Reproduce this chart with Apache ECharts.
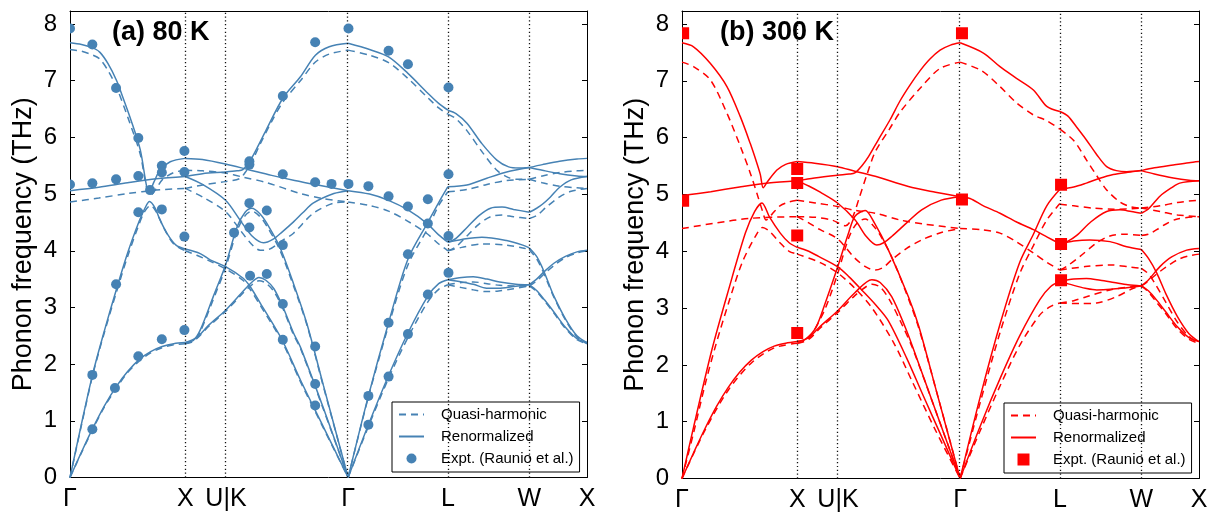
<!DOCTYPE html>
<html><head><meta charset="utf-8">
<script src="https://cdn.jsdelivr.net/npm/echarts@6/dist/echarts.min.js"></script>
<style>html,body{margin:0;padding:0;background:#fff}#c{width:1212px;height:514px}</style>
</head><body><div id="c"></div>
<script>
// High-symmetry path positions and labels
const kPos = [0, 1, 1.3536, 2.4142, 3.2802, 3.9873, 4.4873];
const kLabels = ['Γ', 'X', 'U|K', 'Γ', 'L', 'W', 'X'];
const yTicks = [0, 1, 2, 3, 4, 5, 6, 7, 8];
const panelTitles = ['(a) 80 K', '(b) 300 K'];
const legendNames = ['Quasi-harmonic', 'Renormalized', 'Expt. (Raunio et al.)'];

// ---------- Panel (a) 80 K : Renormalized ----------
const renA_GX = [
 [[0,0],[0.1,0.45],[0.2,0.88],[0.3,1.27],[0.4,1.6],[0.5,1.87],[0.6,2.08],[0.7,2.22],[0.8,2.31],[0.9,2.36],[1,2.38]],
 [[0,0],[0.1,0.95],[0.2,1.85],[0.3,2.6],[0.4,3.3],[0.5,3.96],[0.6,4.52],[0.65,4.75],[0.69,4.87],[0.74,4.75],[0.78,4.55],[0.85,4.28],[0.92,4.1],[1,4.03]],
 [[0,7.67],[0.1,7.64],[0.2,7.58],[0.26,7.5],[0.33,7.3],[0.405,7.0],[0.46,6.7],[0.52,6.36],[0.61,5.78],[0.666,5.13],[0.69,5.06],[0.73,5.22],[0.78,5.42],[0.87,5.57],[1,5.63]],
 [[0,5.06],[0.25,5.12],[0.5,5.2],[0.75,5.27],[1,5.31]]
];
const renA_XG = [
 [[1,5.63],[1.15,5.61],[1.35,5.53],[1.55,5.43],[1.75,5.33],[1.95,5.24],[2.15,5.16],[2.414,5.06]],
 [[1,5.31],[1.15,5.36],[1.35,5.39],[1.45,5.41],[1.5,5.43],[1.56,5.58],[1.62,5.8],[1.7,6.12],[1.85,6.7],[2.0,7.07],[2.13,7.45],[2.25,7.6],[2.414,7.66]],
 [[1,5.31],[1.15,5.17],[1.35,4.89],[1.476,4.54],[1.58,4.26],[1.68,4.14],[1.76,4.2],[1.84,4.33],[1.94,4.51],[2.02,4.67],[2.11,4.84],[2.29,5.01],[2.414,5.06]],
 [[1,4.03],[1.13,3.95],[1.216,3.84],[1.35,3.72],[1.5,3.52],[1.563,3.37],[1.65,3.08],[1.84,2.43],[2.0,1.72],[2.2,0.89],[2.414,0]],
 [[1,2.38],[1.07,2.42],[1.13,2.6],[1.245,3.2],[1.35,3.75],[1.45,4.42],[1.52,4.68],[1.578,4.75],[1.65,4.65],[1.71,4.48],[1.82,4.07],[1.94,3.42],[2.055,2.72],[2.2,1.62],[2.414,0]],
 [[1,2.38],[1.1,2.47],[1.2,2.68],[1.35,2.95],[1.5,3.28],[1.58,3.45],[1.64,3.53],[1.7,3.48],[1.77,3.33],[1.85,3.0],[1.94,2.55],[2.0,2.3],[2.2,1.22],[2.414,0]]
];
const renA_GL = [
 [[2.414,0],[2.59,0.93],[2.765,1.8],[2.933,2.55],[3.106,3.2],[3.2,3.42],[3.28,3.49]],
 [[2.414,0],[2.59,1.44],[2.765,2.73],[2.933,3.85],[3.106,4.5],[3.2,4.85],[3.28,5.13]],
 [[2.414,5.06],[2.6,5.0],[2.765,4.89],[2.933,4.72],[3.1,4.48],[3.2,4.28],[3.28,4.15]],
 [[2.414,7.66],[2.6,7.55],[2.765,7.42],[2.933,7.13],[3.106,6.78],[3.2,6.6],[3.28,6.48]]
];
const renA_LW = [
 [[3.28,6.48],[3.35,6.42],[3.445,6.25],[3.575,5.89],[3.705,5.6],[3.807,5.48],[3.9,5.46],[3.987,5.47]],
 [[3.28,5.13],[3.445,5.16],[3.618,5.28],[3.79,5.39],[3.987,5.47]],
 [[3.28,4.15],[3.35,4.22],[3.45,4.42],[3.55,4.62],[3.65,4.75],[3.75,4.77],[3.85,4.73],[3.987,4.68]],
 [[3.28,4.15],[3.4,4.2],[3.575,4.24],[3.79,4.18],[3.93,4.1],[3.987,4.05]],
 [[3.28,3.49],[3.4,3.53],[3.5,3.54],[3.62,3.5],[3.73,3.45],[3.87,3.41],[3.987,3.4]],
 [[3.28,3.49],[3.4,3.45],[3.5,3.41],[3.616,3.34],[3.72,3.34],[3.85,3.37],[3.987,3.4]]
];
const renA_WX = [
 [[3.987,5.47],[4.1,5.52],[4.25,5.58],[4.4,5.62],[4.487,5.63]],
 [[3.987,5.47],[4.1,5.42],[4.25,5.36],[4.4,5.32],[4.487,5.31]],
 [[3.987,4.68],[4.05,4.75],[4.1,4.82],[4.17,4.95],[4.25,5.12],[4.35,5.25],[4.487,5.31]],
 [[3.987,4.05],[4.05,3.9],[4.1,3.7],[4.15,3.45],[4.2,3.2],[4.3,2.8],[4.4,2.5],[4.487,2.38]],
 [[3.987,3.4],[4.05,3.3],[4.12,3.13],[4.2,2.92],[4.3,2.65],[4.4,2.45],[4.487,2.38]],
 [[3.987,3.4],[4.05,3.5],[4.12,3.64],[4.2,3.78],[4.3,3.9],[4.4,3.98],[4.487,4.01]]
];

// ---------- Panel (a) 80 K : Quasi-harmonic ----------
const qhA_GX = [
 [[0,0],[0.1,0.44],[0.2,0.86],[0.3,1.25],[0.4,1.57],[0.5,1.85],[0.6,2.05],[0.7,2.2],[0.8,2.29],[0.9,2.34],[1,2.36]],
 [[0,0],[0.1,0.93],[0.2,1.83],[0.3,2.57],[0.4,3.25],[0.5,3.9],[0.6,4.47],[0.65,4.7],[0.7,4.8],[0.75,4.68],[0.82,4.38],[0.9,4.12],[1,4.0]],
 [[0,7.55],[0.1,7.52],[0.2,7.45],[0.26,7.38],[0.33,7.18],[0.405,6.88],[0.52,6.25],[0.61,5.7],[0.666,5.1],[0.7,4.98],[0.75,5.1],[0.8,5.25],[0.9,5.38],[1,5.42]],
 [[0,4.86],[0.25,4.93],[0.5,5.01],[0.75,5.07],[1,5.1]]
];
const qhA_XG = [
 [[1,5.42],[1.15,5.41],[1.35,5.37],[1.5,5.3],[1.71,5.2],[2.0,5.01],[2.2,4.92],[2.414,4.86]],
 [[1,5.1],[1.15,5.16],[1.35,5.22],[1.47,5.27],[1.52,5.38],[1.58,5.58],[1.65,5.88],[1.75,6.28],[1.85,6.63],[2.0,7.0],[2.13,7.33],[2.25,7.47],[2.414,7.54]],
 [[1,5.1],[1.15,4.95],[1.35,4.69],[1.476,4.37],[1.56,4.15],[1.65,4.01],[1.72,4.02],[1.84,4.18],[1.94,4.31],[2.11,4.66],[2.29,4.84],[2.414,4.86]],
 [[1,4.0],[1.1,3.92],[1.2,3.83],[1.35,3.68],[1.5,3.48],[1.56,3.33],[1.65,3.04],[1.84,2.4],[2.0,1.69],[2.2,0.87],[2.414,0]],
 [[1,2.36],[1.07,2.4],[1.13,2.57],[1.245,3.15],[1.35,3.7],[1.45,4.35],[1.52,4.62],[1.578,4.7],[1.65,4.6],[1.71,4.43],[1.82,4.02],[1.94,3.38],[2.055,2.7],[2.2,1.6],[2.414,0]],
 [[1,2.36],[1.1,2.45],[1.2,2.66],[1.35,2.93],[1.5,3.25],[1.58,3.4],[1.64,3.47],[1.7,3.43],[1.77,3.28],[1.85,2.97],[1.94,2.52],[2.0,2.28],[2.2,1.2],[2.414,0]]
];
const qhA_GL = [
 [[2.414,0],[2.59,0.9],[2.765,1.75],[2.933,2.47],[3.106,3.1],[3.2,3.32],[3.28,3.4]],
 [[2.414,0],[2.59,1.42],[2.765,2.68],[2.933,3.75],[3.106,4.4],[3.2,4.8],[3.28,5.04]],
 [[2.414,4.86],[2.6,4.8],[2.765,4.7],[2.933,4.52],[3.1,4.3],[3.2,4.12],[3.28,4.0]],
 [[2.414,7.54],[2.6,7.45],[2.765,7.32],[2.933,7.04],[3.106,6.7],[3.2,6.52],[3.28,6.41]]
];
const qhA_LW = [
 [[3.28,6.41],[3.35,6.33],[3.445,6.12],[3.575,5.75],[3.705,5.42],[3.807,5.29],[3.9,5.26],[3.987,5.26]],
 [[3.28,5.04],[3.445,5.08],[3.618,5.17],[3.79,5.24],[3.987,5.26]],
 [[3.28,4.0],[3.35,4.07],[3.45,4.27],[3.55,4.47],[3.65,4.6],[3.75,4.63],[3.85,4.6],[3.987,4.57]],
 [[3.28,4.0],[3.4,4.06],[3.575,4.12],[3.79,4.1],[3.93,4.05],[3.987,4.02]],
 [[3.28,3.4],[3.4,3.44],[3.5,3.45],[3.62,3.42],[3.73,3.39],[3.87,3.38],[3.987,3.38]],
 [[3.28,3.4],[3.4,3.35],[3.5,3.31],[3.616,3.28],[3.72,3.29],[3.85,3.33],[3.987,3.38]]
];
const qhA_WX = [
 [[3.987,5.26],[4.1,5.32],[4.25,5.38],[4.4,5.41],[4.487,5.42]],
 [[3.987,5.26],[4.1,5.2],[4.25,5.14],[4.4,5.11],[4.487,5.1]],
 [[3.987,4.57],[4.05,4.62],[4.14,4.78],[4.25,4.95],[4.35,5.05],[4.487,5.1]],
 [[3.987,4.02],[4.05,3.86],[4.1,3.66],[4.15,3.42],[4.2,3.18],[4.3,2.78],[4.4,2.48],[4.487,2.36]],
 [[3.987,3.38],[4.05,3.28],[4.12,3.11],[4.2,2.9],[4.3,2.63],[4.4,2.43],[4.487,2.36]],
 [[3.987,3.38],[4.05,3.47],[4.12,3.6],[4.2,3.74],[4.3,3.88],[4.4,3.96],[4.487,4.0]]
];

// ---------- Panel (b) 300 K : Renormalized ----------
const renB_GX = [
 [[0,0],[0.1,0.45],[0.2,0.88],[0.3,1.27],[0.4,1.6],[0.5,1.87],[0.6,2.08],[0.7,2.23],[0.8,2.33],[0.9,2.38],[1,2.41]],
 [[0,0],[0.1,0.9],[0.26,2.27],[0.404,3.32],[0.55,4.32],[0.63,4.7],[0.694,4.85],[0.76,4.6],[0.853,4.32],[0.93,4.15],[1,4.07]],
 [[0,7.67],[0.1,7.6],[0.245,7.31],[0.39,6.9],[0.506,6.37],[0.592,5.9],[0.65,5.55],[0.68,5.35],[0.705,5.12],[0.74,5.22],[0.824,5.43],[0.9,5.53],[1,5.58]],
 [[0,4.98],[0.25,5.05],[0.5,5.13],[0.75,5.2],[1,5.24]]
];
const renB_XG = [
 [[1,5.58],[1.15,5.55],[1.35,5.49],[1.5,5.41],[1.677,5.32],[1.965,5.14],[2.2,5.04],[2.414,4.96]],
 [[1,5.24],[1.15,5.29],[1.35,5.34],[1.45,5.36],[1.5,5.38],[1.56,5.5],[1.62,5.67],[1.7,5.95],[1.807,6.32],[1.893,6.65],[1.98,6.93],[2.067,7.18],[2.15,7.38],[2.24,7.54],[2.33,7.63],[2.414,7.67]],
 [[1,5.24],[1.1,5.15],[1.2,5.04],[1.35,4.85],[1.503,4.55],[1.6,4.26],[1.69,4.11],[1.75,4.15],[1.82,4.26],[1.95,4.5],[2.08,4.73],[2.25,4.9],[2.414,4.96]],
 [[1,4.07],[1.1,4.0],[1.185,3.91],[1.35,3.73],[1.45,3.55],[1.56,3.32],[1.68,3.06],[1.79,2.78],[1.95,2.12],[2.1,1.43],[2.25,0.75],[2.414,0]],
 [[1,2.41],[1.07,2.45],[1.16,2.65],[1.245,3.1],[1.35,3.72],[1.45,4.35],[1.503,4.62],[1.59,4.72],[1.67,4.5],[1.79,4.03],[1.965,3.2],[2.055,2.68],[2.2,1.6],[2.414,0]],
 [[1,2.41],[1.1,2.48],[1.2,2.68],[1.35,2.95],[1.5,3.27],[1.648,3.5],[1.72,3.45],[1.82,3.2],[1.94,2.65],[2.0,2.33],[2.2,1.2],[2.414,0]]
];
const renB_GL = [
 [[2.414,0],[2.59,0.93],[2.765,1.78],[2.933,2.52],[3.106,3.15],[3.2,3.38],[3.28,3.47]],
 [[2.414,0],[2.59,1.45],[2.765,2.75],[2.93,3.8],[3.05,4.3],[3.166,4.8],[3.28,5.09]],
 [[2.414,4.96],[2.5,4.93],[2.616,4.8],[2.76,4.67],[2.9,4.52],[3.05,4.38],[3.17,4.25],[3.28,4.13]],
 [[2.414,7.67],[2.616,7.49],[2.76,7.25],[2.9,7.05],[3.05,6.84],[3.166,6.55],[3.28,6.46]]
];
const renB_LW = [
 [[3.28,6.46],[3.35,6.38],[3.42,6.2],[3.51,5.96],[3.6,5.7],[3.686,5.49],[3.77,5.42],[3.86,5.4],[3.987,5.42]],
 [[3.28,5.09],[3.4,5.13],[3.51,5.2],[3.62,5.28],[3.743,5.35],[3.87,5.39],[3.987,5.42]],
 [[3.28,4.13],[3.35,4.18],[3.426,4.28],[3.55,4.52],[3.686,4.7],[3.8,4.73],[3.9,4.7],[3.987,4.67]],
 [[3.28,4.13],[3.4,4.18],[3.54,4.2],[3.715,4.17],[3.86,4.08],[3.987,4.03]],
 [[3.28,3.47],[3.4,3.51],[3.51,3.52],[3.63,3.49],[3.75,3.45],[3.87,3.41],[3.987,3.39]],
 [[3.28,3.47],[3.4,3.4],[3.5,3.35],[3.6,3.32],[3.72,3.33],[3.86,3.36],[3.987,3.39]]
];
const renB_WX = [
 [[3.987,5.42],[4.1,5.47],[4.264,5.52],[4.4,5.56],[4.487,5.58]],
 [[3.987,5.42],[4.1,5.36],[4.264,5.29],[4.4,5.25],[4.487,5.24]],
 [[3.987,4.67],[4.05,4.75],[4.148,4.97],[4.25,5.12],[4.32,5.2],[4.487,5.24]],
 [[3.987,4.03],[4.05,3.87],[4.12,3.62],[4.2,3.25],[4.3,2.85],[4.4,2.55],[4.487,2.41]],
 [[3.987,3.39],[4.05,3.3],[4.12,3.14],[4.2,2.93],[4.3,2.67],[4.4,2.48],[4.487,2.41]],
 [[3.987,3.39],[4.05,3.5],[4.148,3.73],[4.25,3.9],[4.38,4.02],[4.487,4.05]]
];

// ---------- Panel (b) 300 K : Quasi-harmonic ----------
const qhB_GX = [
 [[0,0],[0.2,0.85],[0.4,1.55],[0.6,2.03],[0.8,2.3],[1,2.38]],
 [[0,0],[0.1,0.8],[0.2,1.65],[0.289,2.32],[0.404,3.09],[0.52,3.79],[0.636,4.26],[0.7,4.42],[0.76,4.35],[0.85,4.15],[0.93,4.0],[1,3.95]],
 [[0,7.33],[0.1,7.25],[0.245,7.02],[0.39,6.43],[0.506,5.85],[0.592,5.38],[0.65,5.02],[0.7,4.7],[0.73,4.55],[0.78,4.65],[0.85,4.8],[0.93,4.87],[1,4.9]],
 [[0,4.4],[0.3,4.5],[0.59,4.58],[1,4.61]]
];
const qhB_XG = [
 [[1,4.9],[1.156,4.85],[1.35,4.79],[1.5,4.72],[1.677,4.67],[1.893,4.55],[2.1,4.48],[2.414,4.4]],
 [[1,4.61],[1.15,4.6],[1.3,4.55],[1.42,4.45],[1.48,4.6],[1.54,4.95],[1.605,5.35],[1.677,5.75],[1.8,6.15],[1.893,6.45],[2.067,6.87],[2.24,7.22],[2.414,7.33]],
 [[1,4.61],[1.1,4.5],[1.2,4.38],[1.35,4.22],[1.5,3.88],[1.6,3.72],[1.677,3.67],[1.75,3.72],[1.82,3.85],[1.95,4.05],[2.08,4.2],[2.25,4.33],[2.414,4.4]],
 [[1,3.95],[1.2,3.8],[1.35,3.62],[1.5,3.35],[1.65,3.0],[1.84,2.38],[2.0,1.7],[2.2,0.85],[2.414,0]],
 [[1,2.38],[1.07,2.42],[1.13,2.55],[1.245,3.0],[1.35,3.6],[1.45,4.25],[1.52,4.5],[1.59,4.57],[1.66,4.45],[1.73,4.25],[1.82,3.9],[1.94,3.3],[2.055,2.65],[2.2,1.6],[2.414,0]],
 [[1,2.38],[1.1,2.45],[1.2,2.65],[1.35,2.92],[1.5,3.22],[1.6,3.38],[1.65,3.42],[1.72,3.37],[1.8,3.15],[1.9,2.75],[2.0,2.3],[2.2,1.2],[2.414,0]]
];
const qhB_GL = [
 [[2.414,0],[2.59,0.85],[2.765,1.65],[2.933,2.35],[3.106,2.88],[3.2,3.03],[3.28,3.09]],
 [[2.414,0],[2.59,1.35],[2.765,2.6],[2.93,3.6],[3.05,4.1],[3.166,4.55],[3.28,4.84]],
 [[2.414,4.4],[2.6,4.38],[2.76,4.32],[2.9,4.17],[3.05,3.97],[3.17,3.8],[3.28,3.67]],
 [[2.414,7.33],[2.6,7.18],[2.76,6.9],[2.9,6.62],[3.05,6.4],[3.166,6.3],[3.28,6.15]]
];
const qhB_LW = [
 [[3.28,6.15],[3.4,5.95],[3.51,5.61],[3.6,5.33],[3.686,5.08],[3.8,4.87],[3.9,4.78],[3.987,4.76]],
 [[3.28,4.83],[3.4,4.8],[3.57,4.76],[3.75,4.74],[3.987,4.76]],
 [[3.28,3.67],[3.35,3.75],[3.455,3.91],[3.6,4.15],[3.715,4.27],[3.85,4.3],[3.987,4.28]],
 [[3.28,3.67],[3.5,3.73],[3.715,3.76],[3.9,3.72],[3.987,3.7]],
 [[3.28,3.09],[3.45,3.08],[3.6,3.09],[3.77,3.2],[3.917,3.35],[3.987,3.39]],
 [[3.28,3.09],[3.4,3.13],[3.51,3.2],[3.74,3.33],[3.987,3.39]]
];
const qhB_WX = [
 [[3.987,4.76],[4.15,4.8],[4.3,4.86],[4.487,4.9]],
 [[3.987,4.76],[4.15,4.7],[4.3,4.64],[4.487,4.61]],
 [[3.987,4.28],[4.05,4.3],[4.12,4.38],[4.2,4.48],[4.3,4.57],[4.487,4.61]],
 [[3.987,3.7],[4.05,3.6],[4.1,3.45],[4.2,3.1],[4.3,2.75],[4.4,2.5],[4.487,2.38]],
 [[3.987,3.39],[4.05,3.28],[4.12,3.1],[4.2,2.9],[4.3,2.63],[4.4,2.45],[4.487,2.38]],
 [[3.987,3.39],[4.05,3.48],[4.12,3.6],[4.2,3.72],[4.3,3.85],[4.4,3.92],[4.487,3.95]]
];

// ---------- Experimental points (Raunio et al.) ----------
const exptA = [
 [0,7.92],[0.194,7.64],[0.40,6.87],[0.593,5.99],
 [0,5.17],[0.194,5.19],[0.40,5.26],[0.593,5.32],[0.695,5.07],[0.797,5.50],[0.797,5.38],[0.993,5.76],[0.993,5.39],
 [0.593,4.68],[0.797,4.73],[0.993,4.25],
 [0.194,1.81],[0.40,3.41],[0.194,0.85],[0.39,1.58],[0.593,2.14],[0.797,2.44],[0.993,2.60],
 [1.424,4.32],[1.557,4.84],[1.557,4.41],[1.708,4.71],[1.847,4.10],
 [1.557,5.58],[1.557,5.52],[1.847,5.35],[1.847,6.73],
 [1.563,3.56],[1.708,3.59],[1.847,3.06],[1.847,2.43],
 [2.128,7.68],[2.417,7.92],[2.765,7.53],[2.933,7.29],[3.285,6.88],
 [2.128,5.21],[2.27,5.18],[2.417,5.18],[2.59,5.14],[2.765,4.96],[2.933,4.78],[3.106,4.91],[3.106,4.48],[3.285,5.35],[3.285,4.26],
 [2.128,2.31],[2.128,1.65],[2.128,1.27],[2.59,1.44],[2.59,0.93],[2.765,2.73],[2.765,1.78],[2.933,3.94],[2.933,2.53],[3.106,3.23],[3.285,3.61]
];
const exptB = [
 [0.01,7.84],[0.01,4.89],[1.0,5.45],[1.0,5.20],[1.0,4.28],[1.0,2.56],
 [2.43,7.84],[2.43,4.91],[3.29,5.17],[3.29,4.13],[3.29,3.49]
];

// ---------- build chart ----------
const FONT = 'Liberation Sans, Arial, Helvetica, sans-serif';
const BLUE = '#4682b4', RED = '#ff0000';
const YMAX = 8.23;
const XMAX = kPos[kPos.length - 1];
const panels = [
  {segsRen:[renA_GX,renA_XG,renA_GL,renA_LW,renA_WX], segsQH:[qhA_GX,qhA_XG,qhA_GL,qhA_LW,qhA_WX],
   expt: exptA, color: BLUE, sfx: '', grid:{left:70, top:11, width:517, height:466.5},
   legend:{left:392, top:402}, title:{left:112, top:19}, marker:'circle', mSize:10},
  {segsRen:[renB_GX,renB_XG,renB_GL,renB_LW,renB_WX], segsQH:[qhB_GX,qhB_XG,qhB_GL,qhB_LW,qhB_WX],
   expt: exptB, color: RED, sfx: ' ', grid:{left:682, top:11, width:517, height:467.5},
   legend:{left:1004, top:403}, title:{left:720, top:19}, marker:'square', mSize:12}
];

const grids = [], xAxes = [], yAxes = [], series = [], legends = [], titles = [];
function labelFor(v){ const i = kPos.findIndex(p => Math.abs(p - v) < 1e-6); return i >= 0 ? kLabels[i] : ''; }
const axisLineStyle = {color:'#000', width:1};

panels.forEach((P, g) => {
  grids.push(P.grid);
  xAxes.push({gridIndex:g, type:'value', min:0, max:XMAX, position:'bottom',
    axisLine:{show:true, onZero:false, lineStyle:axisLineStyle}, axisTick:{show:false}, splitLine:{show:false},
    axisLabel:{customValues:kPos, formatter:v => labelFor(v), fontSize:25, color:'#000', fontFamily:FONT, margin:9,
      showMinLabel:true, showMaxLabel:true, hideOverlap:false}});
  xAxes.push({gridIndex:g, type:'value', min:0, max:XMAX, position:'top',
    axisLine:{show:true, onZero:false, lineStyle:axisLineStyle}, axisTick:{show:false}, axisLabel:{show:false}, splitLine:{show:false}});
  yAxes.push({gridIndex:g, type:'value', min:0, max:YMAX, interval:1, position:'left',
    name:'Phonon frequency (THz)', nameLocation:'middle', nameGap:33,
    nameTextStyle:{fontSize:27, color:'#000', fontFamily:FONT},
    axisLine:{show:true, onZero:false, lineStyle:axisLineStyle},
    axisTick:{show:true, inside:true, length:5, lineStyle:{color:'#000'}},
    axisLabel:{fontSize:24, color:'#000', fontFamily:FONT, margin:13,
      formatter:v => (yTicks.indexOf(v) >= 0 ? String(v) : '')},
    splitLine:{show:false}});
  yAxes.push({gridIndex:g, type:'value', min:0, max:YMAX, interval:1, position:'right',
    axisLine:{show:true, onZero:false, lineStyle:axisLineStyle},
    axisTick:{show:true, inside:true, length:5, lineStyle:{color:'#000'}},
    axisLabel:{show:false}, splitLine:{show:false}});

  const nQH = legendNames[0] + P.sfx, nRen = legendNames[1] + P.sfx, nEx = legendNames[2] + P.sfx;
  let first = true;
  const addLines = (segs, name, dashed) => segs.forEach(seg => seg.forEach(br => {
    const s = {type:'line', name, xAxisIndex:2*g, yAxisIndex:2*g, data:br, smooth:0.3,
      symbol:'none', showSymbol:false, silent:true, z:3,
      lineStyle:{color:P.color, width:1.5, type: dashed ? [7,5] : 'solid'}, itemStyle:{color:P.color}};
    if (first) {
      s.markLine = {silent:true, symbol:['none','none'], label:{show:false}, animation:false,
        lineStyle:{type:[1.2,2.6], color:'#111', width:1.3},
        emphasis:{disabled:true},
        data: kPos.slice(1, -1).map(v => ({xAxis:v}))};
      first = false;
    }
    series.push(s);
  }));
  addLines(P.segsQH, nQH, true);
  addLines(P.segsRen, nRen, false);

  const col = P.color, ms = P.mSize, mk = P.marker;
  series.push({type:'custom', name:nEx, xAxisIndex:2*g, yAxisIndex:2*g, data:P.expt, clip:true, z:5,
    encode:{x:0, y:1}, itemStyle:{color:col},
    renderItem:(params, api) => {
      const c = api.coord([api.value(0), api.value(1)]);
      if (mk === 'circle') return {type:'circle', shape:{cx:c[0], cy:c[1], r:ms/2}, style:{fill:col}};
      return {type:'rect', shape:{x:c[0]-ms/2, y:c[1]-ms/2, width:ms, height:ms}, style:{fill:col}};
    }});

  legends.push({left:P.legend.left, top:P.legend.top, orient:'vertical', selectedMode:false,
    data:[
      {name:nQH, itemStyle:{opacity:0}},
      {name:nRen, itemStyle:{opacity:0}},
      {name:nEx, icon: mk === 'circle' ? 'circle' : 'path://M0,0L10,0L10,10L0,10Z'}
    ],
    formatter: n => n.trim(),
    itemWidth:25, itemHeight:mk === 'circle' ? 10 : 12, itemGap:7,
    borderColor:'#000', borderWidth:1, backgroundColor:'#fff', borderRadius:0,
    padding:[5, 6, 6, 6],
    textStyle:{fontSize:15, color:'#000', fontFamily:FONT, padding:[0,0,0,12]}});

  titles.push({text:panelTitles[g], left:P.title.left, top:P.title.top, padding:0,
    textStyle:{fontSize:27, fontWeight:'bold', color:'#000', fontFamily:FONT}});
});

const chart = echarts.init(document.getElementById('c'), null, {renderer:'canvas'});
chart.setOption({
  animation:false, backgroundColor:'#fff',
  title:titles, legend:legends, grid:grids, xAxis:xAxes, yAxis:yAxes, series:series
});
</script>
</body></html>
